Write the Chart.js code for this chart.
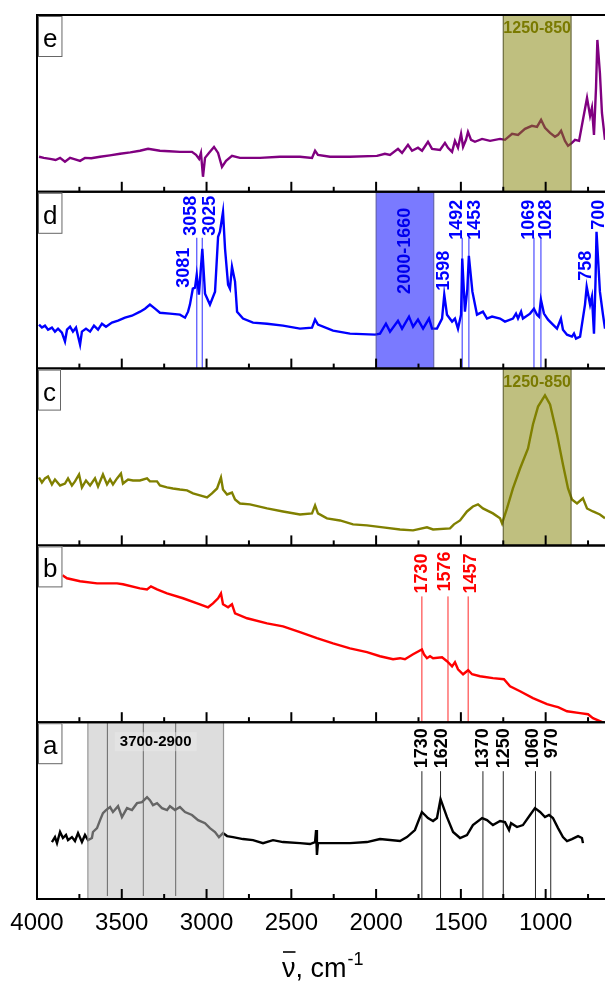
<!DOCTYPE html>
<html>
<head>
<meta charset="utf-8">
<title>IR spectra a–e</title>
<script src="https://cdn.jsdelivr.net/npm/chart.js@4.4.0/dist/chart.umd.min.js"></script>
<style>
  html, body { margin: 0; padding: 0; background: #fff; }
  canvas { display: block; }
</style>
</head>
<body>
<canvas id="ir" width="605" height="981"></canvas>
<script>
// ---- wavenumber axis ----
const xTickLabels = [4000, 3500, 3000, 2500, 2000, 1500, 1000];
const xMinorTicks = [3750, 3250, 2750, 2250, 1750, 1250, 750];

// ---- spectrum e ----
const waveE = [3988, 3960, 3923, 3890, 3864, 3835, 3805, 3780, 3746, 3717, 3680, 3628, 3570, 3510, 3450, 3393, 3345, 3275, 3220, 3157, 3086, 3062, 3044, 3033, 3021, 3009, 2986, 2956, 2932, 2909, 2885, 2850, 2803, 2685, 2567, 2449, 2378, 2360, 2343, 2272, 2154, 1995, 1948, 1918, 1871, 1847, 1812, 1788, 1753, 1729, 1694, 1670, 1623, 1594, 1576, 1552, 1535, 1517, 1499, 1487, 1470, 1458, 1440, 1417, 1375, 1328, 1269, 1240, 1198, 1163, 1122, 1081, 1051, 1027, 1004, 974, 945, 927, 909, 886, 868, 845, 827, 803, 780, 756, 738, 727, 715, 703, 695, 680, 668, 650];
const absE  = [19.8, 19.2, 18.6, 18.0, 19.2, 17.0, 19.2, 18.5, 17.5, 19.2, 19.0, 19.8, 20.6, 21.5, 22.3, 23.2, 24.3, 23.2, 22.9, 22.6, 22.6, 20.9, 18.6, 22.0, 8.5, 19.2, 22.0, 25.4, 22.0, 14.1, 17.5, 20.3, 19.2, 19.2, 19.8, 19.8, 19.2, 23.2, 20.9, 19.8, 19.8, 20.3, 21.5, 20.9, 24.3, 22.0, 26.6, 23.2, 24.9, 23.2, 28.3, 24.3, 23.7, 27.7, 24.9, 22.6, 28.8, 24.9, 32.8, 25.4, 29.4, 33.9, 29.4, 28.3, 29.9, 28.8, 29.9, 29.4, 32.8, 32.2, 35.6, 37.3, 36.7, 40.7, 36.2, 33.3, 31.1, 32.2, 34.5, 28.8, 26.0, 27.7, 29.4, 28.8, 40.7, 53.1, 42.9, 47.5, 32.2, 58.8, 85.9, 67.2, 44.6, 29.4];

// ---- spectrum d ----
const waveD = [3988, 3971, 3953, 3935, 3912, 3894, 3876, 3853, 3835, 3823, 3805, 3788, 3770, 3746, 3735, 3711, 3687, 3664, 3640, 3617, 3593, 3558, 3522, 3481, 3440, 3392, 3363, 3334, 3304, 3275, 3216, 3157, 3127, 3109, 3098, 3081, 3068, 3058, 3045, 3025, 3009, 2980, 2950, 2932, 2921, 2903, 2891, 2873, 2862, 2850, 2832, 2820, 2785, 2726, 2643, 2549, 2449, 2378, 2360, 2343, 2254, 2154, 2006, 1977, 1942, 1918, 1871, 1847, 1806, 1782, 1753, 1723, 1688, 1670, 1641, 1611, 1598, 1582, 1552, 1535, 1517, 1499, 1492, 1476, 1462, 1453, 1432, 1405, 1370, 1346, 1316, 1269, 1240, 1193, 1175, 1163, 1145, 1134, 1092, 1069, 1051, 1039, 1028, 1010, 986, 957, 933, 910, 898, 874, 845, 833, 821, 797, 768, 758, 738, 727, 715, 706, 700, 680, 662, 650];
const absD  = [24.9, 23.2, 24.3, 22.0, 23.2, 20.9, 22.6, 20.3, 15.3, 22.0, 23.7, 20.9, 23.2, 13.6, 20.9, 22.6, 20.9, 24.3, 22.0, 25.4, 23.7, 26.0, 27.1, 28.8, 29.9, 32.2, 33.9, 36.2, 33.9, 31.6, 31.1, 30.5, 28.8, 32.2, 36.2, 45.2, 45.8, 53.1, 41.8, 67.8, 42.4, 36.2, 43.5, 74.6, 77.4, 88.7, 67.8, 47.5, 45.2, 57.6, 49.2, 32.2, 28.3, 26.0, 25.4, 24.3, 22.6, 23.2, 27.7, 24.9, 21.5, 19.8, 19.2, 19.8, 25.4, 20.9, 27.1, 22.6, 29.4, 23.7, 27.7, 22.6, 28.3, 22.6, 22.6, 28.3, 41.8, 30.5, 26.6, 28.3, 22.6, 30.5, 62.2, 32.2, 45.0, 63.8, 43.5, 30.5, 32.2, 28.3, 29.4, 28.3, 26.6, 28.3, 31.1, 28.3, 32.2, 28.3, 31.1, 33.9, 30.5, 29.4, 39.0, 31.1, 27.7, 24.9, 22.6, 28.3, 22.0, 19.2, 18.1, 19.8, 17.0, 18.1, 36.2, 46.3, 36.2, 40.7, 19.8, 49.2, 77.4, 43.5, 30.5, 22.6];

// ---- spectrum c ----
const waveC = [3988, 3971, 3953, 3935, 3912, 3894, 3864, 3835, 3817, 3794, 3776, 3752, 3735, 3711, 3687, 3658, 3640, 3611, 3587, 3569, 3552, 3528, 3505, 3493, 3463, 3434, 3393, 3351, 3334, 3292, 3275, 3233, 3198, 3157, 3115, 3080, 3039, 2997, 2968, 2938, 2915, 2903, 2879, 2850, 2832, 2803, 2744, 2643, 2549, 2449, 2378, 2360, 2343, 2290, 2213, 2136, 2054, 1959, 1859, 1782, 1700, 1664, 1564, 1541, 1505, 1464, 1429, 1399, 1370, 1311, 1269, 1257, 1228, 1193, 1151, 1104, 1075, 1045, 1004, 974, 933, 898, 868, 845, 815, 780, 756, 721, 680, 650];
const absC  = [38.4, 35.6, 37.9, 39.0, 34.5, 37.3, 33.9, 35.0, 37.9, 33.9, 36.2, 40.1, 32.8, 36.7, 33.9, 37.9, 33.3, 40.1, 34.5, 37.3, 34.5, 37.9, 40.7, 35.0, 37.3, 36.7, 36.7, 37.9, 36.2, 36.2, 33.9, 32.8, 32.2, 31.6, 31.1, 29.4, 28.3, 27.1, 29.4, 32.2, 38.4, 31.6, 28.8, 29.9, 26.0, 23.7, 23.2, 20.9, 19.2, 17.5, 18.1, 22.6, 18.1, 15.3, 14.1, 11.9, 11.3, 10.2, 9.0, 8.5, 10.2, 9.0, 9.6, 11.9, 14.1, 19.2, 22.0, 23.2, 20.9, 18.1, 15.3, 12.4, 20.9, 32.2, 43.5, 54.8, 68.4, 78.5, 84.8, 79.7, 62.7, 45.8, 32.2, 26.0, 23.7, 26.6, 20.9, 19.2, 17.5, 15.3];

// ---- spectrum b ----
const waveB = [3850, 3823, 3746, 3646, 3528, 3493, 3393, 3351, 3328, 3292, 3233, 3139, 3039, 2991, 2962, 2932, 2915, 2903, 2873, 2850, 2832, 2761, 2643, 2549, 2449, 2349, 2254, 2154, 2054, 1977, 1900, 1859, 1830, 1782, 1730, 1718, 1700, 1682, 1664, 1611, 1582, 1552, 1535, 1517, 1487, 1457, 1434, 1387, 1311, 1246, 1210, 1151, 1075, 992, 945, 927, 874, 797, 750, 721, 680, 650];
const absB  = [83.1, 81.4, 79.7, 78.5, 78.5, 78.0, 75.7, 75.1, 76.8, 75.1, 72.9, 70.1, 66.7, 65.0, 67.2, 70.1, 72.9, 66.7, 65.0, 66.7, 61.6, 58.8, 55.9, 54.2, 50.9, 47.5, 44.6, 41.8, 39.6, 37.3, 35.6, 36.2, 35.6, 38.4, 41.2, 38.4, 36.2, 37.3, 36.2, 36.7, 34.5, 31.6, 33.9, 29.9, 27.1, 29.4, 27.1, 26.0, 24.9, 24.3, 20.3, 17.5, 13.6, 10.2, 9.0, 8.5, 6.2, 5.1, 4.5, 2.3, 0.6, -0.6];

// ---- spectrum a ----
const waveA = [3912, 3894, 3882, 3864, 3847, 3829, 3817, 3794, 3776, 3758, 3735, 3717, 3699, 3676, 3670, 3646, 3628, 3611, 3593, 3569, 3552, 3522, 3499, 3469, 3440, 3410, 3381, 3351, 3334, 3316, 3292, 3263, 3233, 3216, 3186, 3157, 3127, 3086, 3050, 3009, 2980, 2950, 2927, 2903, 2879, 2844, 2785, 2726, 2667, 2608, 2549, 2449, 2390, 2360, 2354, 2349, 2343, 2254, 2154, 2054, 1977, 1859, 1818, 1771, 1730, 1694, 1664, 1641, 1620, 1582, 1546, 1505, 1464, 1429, 1375, 1346, 1311, 1269, 1240, 1216, 1204, 1169, 1134, 1092, 1063, 1033, 1004, 980, 957, 927, 898, 874, 845, 809, 786, 780];
const absA  = [32.2, 35.0, 31.6, 37.9, 34.5, 36.2, 33.3, 35.0, 32.8, 37.3, 32.2, 36.2, 33.3, 34.5, 37.9, 40.1, 44.6, 48.6, 50.3, 52.0, 49.2, 52.5, 46.3, 51.4, 50.3, 54.2, 54.8, 57.6, 55.9, 53.1, 54.2, 51.4, 50.3, 52.5, 50.3, 52.0, 49.2, 47.5, 44.6, 42.9, 40.1, 37.9, 35.0, 37.3, 35.6, 35.0, 33.9, 33.3, 31.6, 33.3, 32.2, 31.6, 31.1, 32.2, 39.0, 24.9, 31.6, 31.6, 31.6, 32.2, 33.9, 32.8, 35.0, 39.0, 49.2, 45.8, 44.1, 45.8, 56.5, 46.3, 37.9, 34.5, 36.2, 41.8, 45.8, 44.6, 41.8, 44.1, 43.5, 39.0, 42.9, 40.7, 41.8, 47.5, 51.4, 49.2, 46.3, 47.5, 45.8, 40.1, 35.0, 32.8, 33.9, 35.6, 34.5, 31.6];

// ---- marked bands (cm-1) and peak positions ----
const bandE = [1250, 850];
const bandD = [2000, 1660];
const bandC = [1250, 850];
const bandA = [3700, 2900];
const bandLinesA = [3585, 3373, 3182];
const peaksD = [3081, 3058, 3025, 1598, 1492, 1453, 1069, 1028, 758, 700];
const peakLinesD = [3058, 3025, 1492, 1453, 1069, 1028];
const peaksB = [1730, 1576, 1457];
const peaksA = [1730, 1620, 1370, 1250, 1060, 970];

// ---- drawing styles ----
const FONT = '"Liberation Sans", Arial, Helvetica, sans-serif';
const colors = { e: '#800080', d: '#0000ff', c: '#808000', b: '#ff0000', a: '#000000' };

// label placement for each panel: horizontal shift of text from the peak line, top gap
const labelLayoutD = {
  3081: { dx: -9, top: 56 }, 3058: { dx: -6, top: 4 }, 3025: { dx: 8, top: 4 },
  1598: { dx: 0, top: 59 }, 1492: { dx: -5, top: 8 }, 1453: { dx: 6.5, top: 8 },
  1069: { dx: -5, top: 8 }, 1028: { dx: 5.5, top: 8 }, 758: { dx: -1, top: 59 }, 700: { dx: 2.5, top: 8 }
};
const labelLayoutB = { 1730: { dx: 0, top: 8 }, 1576: { dx: -3, top: 6 }, 1457: { dx: 2.5, top: 8 } };
const labelLayoutA = { 1730: { dx: 0, top: 6 }, 1620: { dx: 1.5, top: 6 }, 1370: { dx: 0, top: 6 }, 1250: { dx: 0.5, top: 6 }, 1060: { dx: -2, top: 6 }, 970: { dx: 1.5, top: 6 } };

function toPoints(w, v) { return w.map((x, i) => ({ x: x, y: v[i] })); }

function panelAxis() {
  return {
    type: 'linear', position: 'left', stack: 'panels', stackWeight: 1,
    min: 0, max: 100,
    ticks: { display: false },
    grid: { display: false, drawTicks: false },
    border: { display: false }
  };
}

function line(ctx, x1, y1, x2, y2) {
  ctx.beginPath(); ctx.moveTo(x1, y1); ctx.lineTo(x2, y2); ctx.stroke();
}

function vText(ctx, text, x, yTop, font, color) {
  ctx.save();
  ctx.translate(x, yTop);
  ctx.rotate(-Math.PI / 2);
  ctx.font = font;
  ctx.fillStyle = color;
  ctx.textAlign = 'right';
  ctx.textBaseline = 'middle';
  ctx.fillText(text, 0, 0);
  ctx.restore();
}

function drawBand(ctx, xs, ys, band, fill, edge) {
  const x1 = xs.getPixelForValue(band[0]);
  const x2 = xs.getPixelForValue(band[1]);
  ctx.fillStyle = fill;
  ctx.fillRect(x1, ys.top, x2 - x1, ys.bottom - ys.top);
  ctx.strokeStyle = edge;
  ctx.lineWidth = 1.2;
  line(ctx, x1, ys.top, x1, ys.bottom);
  line(ctx, x2, ys.top, x2, ys.bottom);
}

const panelDecor = {
  id: 'panelDecor',
  afterDatasetsDraw(chart) {
    const { ctx, chartArea: ca, scales } = chart;
    const xs = scales.x;
    const px = v => xs.getPixelForValue(v);
    const yE = scales.ye, yD = scales.yd, yC = scales.yc, yB = scales.yb, yA = scales.ya;
    ctx.save();

    // panel a: lines inside the grey band, then the band over the trace
    ctx.strokeStyle = '#000'; ctx.lineWidth = 1;
    bandLinesA.forEach(w => line(ctx, px(w), yA.top, px(w), yA.bottom - 3));
    drawBand(ctx, xs, yA, bandA, 'rgba(190,190,190,0.53)', 'rgba(140,140,140,0.9)');
    ctx.fillStyle = 'rgba(235,235,235,0.45)';
    const cA = (px(bandA[0]) + px(bandA[1])) / 2;
    ctx.fillRect(cA - 41, yA.top + 10, 82, 19);
    ctx.font = 'bold 15px ' + FONT; ctx.fillStyle = '#000';
    ctx.textAlign = 'center'; ctx.textBaseline = 'middle';
    ctx.fillText(bandA[0] + '-' + bandA[1], cA, yA.top + 19.5);

    // olive bands in panels e and c
    [yE, yC].forEach(ys => {
      const band = ys === yE ? bandE : bandC;
      drawBand(ctx, xs, ys, band, 'rgba(128,128,0,0.5)', 'rgba(70,70,20,0.75)');
      ctx.font = 'bold 16px ' + FONT; ctx.fillStyle = '#7a7a00';
      ctx.textAlign = 'center'; ctx.textBaseline = 'middle';
      ctx.fillText(band[0] + '-' + band[1], (px(band[0]) + px(band[1])) / 2, ys.top + 14);
    });

    // blue band in panel d
    drawBand(ctx, xs, yD, bandD, 'rgba(0,0,255,0.52)', 'rgba(70,70,140,0.7)');
    vText(ctx, bandD[0] + '-' + bandD[1], (px(bandD[0]) + px(bandD[1])) / 2, yD.top + 16, 'bold 18px ' + FONT, '#0000ee');

    // peak markers, panel d
    ctx.strokeStyle = 'rgba(0,0,255,0.6)'; ctx.lineWidth = 1.4;
    peakLinesD.forEach(w => line(ctx, px(w), yD.top + 46, px(w), yD.bottom));
    peaksD.forEach(w => {
      const L = labelLayoutD[w];
      vText(ctx, String(w), px(w) + L.dx, yD.top + L.top, 'bold 18px ' + FONT, '#0000ff');
    });

    // peak markers, panel b
    ctx.strokeStyle = 'rgba(255,0,0,0.85)'; ctx.lineWidth = 1;
    peaksB.forEach(w => {
      const L = labelLayoutB[w];
      line(ctx, px(w), yB.top + 51, px(w), yB.bottom);
      vText(ctx, String(w), px(w) + L.dx, yB.top + L.top, 'bold 18px ' + FONT, '#ff0000');
    });

    // peak markers, panel a
    ctx.strokeStyle = 'rgba(0,0,0,0.85)'; ctx.lineWidth = 1;
    peaksA.forEach(w => {
      const L = labelLayoutA[w];
      line(ctx, px(w), yA.top + 49, px(w), yA.bottom);
      vText(ctx, String(w), px(w) + L.dx, yA.top + L.top, 'bold 18px ' + FONT, '#000');
    });

    // frames and inward ticks
    const panels = [yE, yD, yC, yB, yA];
    ctx.strokeStyle = '#000'; ctx.lineWidth = 2;
    panels.forEach(ys => {
      line(ctx, ca.left, ys.top, ca.right, ys.top);
      line(ctx, ca.left, ys.bottom, ca.right, ys.bottom);
      xTickLabels.forEach(w => line(ctx, px(w), ys.bottom, px(w), ys.bottom - 10));
      xMinorTicks.forEach(w => line(ctx, px(w), ys.bottom, px(w), ys.bottom - 5));
    });
    line(ctx, ca.left, ca.top - 1, ca.left, ca.bottom + 1);

    // panel letters
    const letters = ['e', 'd', 'c', 'b', 'a'];
    ctx.font = '26px ' + FONT;
    panels.forEach((ys, i) => {
      const w = ctx.measureText(letters[i]).width + 10;
      const bx = ca.left + 1, by = ys.top + 1;
      ctx.fillStyle = '#fff';
      ctx.fillRect(bx, by, w, 40);
      ctx.strokeStyle = '#666'; ctx.lineWidth = 1;
      ctx.strokeRect(bx + 0.5, by + 0.5, w - 1, 40);
      ctx.fillStyle = '#000'; ctx.textAlign = 'center'; ctx.textBaseline = 'alphabetic';
      ctx.fillText(letters[i], bx + w / 2, by + 31);
    });

    // wavenumber tick labels under the bottom panel
    ctx.fillStyle = '#000'; ctx.font = '24px ' + FONT;
    ctx.textAlign = 'center'; ctx.textBaseline = 'alphabetic';
    xTickLabels.forEach(w => ctx.fillText(String(w), px(w), ca.bottom + 31));

    // axis title: wavenumber with overbar, cm^-1
    ctx.textAlign = 'left';
    ctx.font = '27px ' + FONT;
    const tx = 282, ty = ca.bottom + 78;
    const nuW = ctx.measureText('ν').width;
    ctx.fillText('ν', tx, ty);
    ctx.strokeStyle = '#000'; ctx.lineWidth = 1.6;
    line(ctx, tx + 1, ty - 25, tx + nuW, ty - 25);
    ctx.fillText(', cm', tx + nuW, ty);
    const cmW = ctx.measureText(', cm').width;
    ctx.font = '18px ' + FONT;
    ctx.fillText('-1', tx + nuW + cmW + 1, ty - 12);

    ctx.restore();
  }
};

new Chart(document.getElementById('ir'), {
  type: 'line',
  data: {
    datasets: [
      { data: toPoints(waveE, absE), yAxisID: 'ye', borderColor: colors.e },
      { data: toPoints(waveD, absD), yAxisID: 'yd', borderColor: colors.d },
      { data: toPoints(waveC, absC), yAxisID: 'yc', borderColor: colors.c },
      { data: toPoints(waveB, absB), yAxisID: 'yb', borderColor: colors.b },
      { data: toPoints(waveA, absA), yAxisID: 'ya', borderColor: colors.a }
    ].map(d => Object.assign(d, { borderWidth: 2.4, pointRadius: 0, tension: 0, fill: false }))
  },
  options: {
    responsive: false,
    animation: false,
    events: [],
    layout: { padding: { left: 37, right: 0, top: 15, bottom: 82 } },
    plugins: { legend: { display: false }, tooltip: { enabled: false } },
    scales: {
      // wavenumber scale; its labels are painted by the panelDecor plugin
      x: { type: 'linear', reverse: true, min: 650, max: 4000, position: 'bottom', display: false },
      // stacked panels: listed bottom (a) to top (e)
      ya: panelAxis(),
      yb: panelAxis(),
      yc: panelAxis(),
      yd: panelAxis(),
      ye: panelAxis()
    }
  },
  plugins: [panelDecor]
});
</script>
</body>
</html>
